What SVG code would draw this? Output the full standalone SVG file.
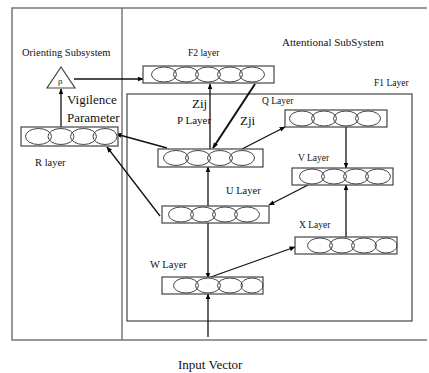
<svg xmlns="http://www.w3.org/2000/svg" width="429" height="373" viewBox="0 0 429 373">
<defs>
<marker id="ah" viewBox="0 0 10 10" refX="9" refY="5" markerWidth="6" markerHeight="6" orient="auto" markerUnits="userSpaceOnUse"><path d="M0,1 L10,5 L0,9 z" fill="#000"/></marker>
<style>
.frame{fill:none;stroke:#777;stroke-width:1.5}
.box{fill:#fff;stroke:#444;stroke-width:1.2}
.cell{fill:none;stroke:#444;stroke-width:1}
.ar{fill:none;stroke:#111;stroke-width:1.3;marker-end:url(#ah)}
.ar2{fill:none;stroke:#111;stroke-width:2;marker-end:url(#ah)}
text{font-family:"Liberation Serif","Times New Roman",serif;fill:#111}
.s{font-size:9.5px}
.m{font-size:10.5px}
.l{font-size:13px}
</style>
</defs>
<rect width="429" height="373" fill="#fff"/>
<g id="frames">
<path class="frame" d="M427,8 H12 V340 H427"/>
<line class="frame" x1="122" y1="8" x2="122" y2="340"/>
<rect x="127" y="94" width="285" height="227" fill="none" stroke="#444" stroke-width="1.2"/>
</g>
<g id="labels">
<text class="m" x="22" y="56">Orienting Subsystem</text>
<text class="m" x="282" y="46" style="font-size:11px">Attentional SubSystem</text>
<text class="s" x="374" y="86">F1 Layer</text>
<text class="l" x="67" y="104">Vigilence</text>
<text class="l" x="67" y="122">Parameter</text>
<text class="l" x="192" y="108">Zij</text>
<text class="l" x="240" y="125">Zji</text>
<text class="l" x="178" y="369">Input Vector</text>
</g>
<g id="connectors">
<line class="ar" x1="74" y1="79" x2="143" y2="79"/>
<line class="ar" x1="61" y1="127" x2="61" y2="89"/>
<line class="ar" x1="210" y1="149" x2="210" y2="84"/>
<line class="ar2" x1="255" y1="84" x2="213" y2="148"/>
<line class="ar" x1="167" y1="148" x2="116" y2="134"/>
<line class="ar" x1="160" y1="216" x2="107" y2="147"/>
<line class="ar" x1="242" y1="149" x2="285" y2="127"/>
<line class="ar" x1="346" y1="127" x2="346" y2="168"/>
<line class="ar" x1="346" y1="237" x2="346" y2="185"/>
<line class="ar" x1="308" y1="185" x2="269" y2="205"/>
<line class="ar" x1="208" y1="206" x2="208" y2="167"/>
<line class="ar" x1="208" y1="223" x2="208" y2="278"/>
<line class="ar" x1="208" y1="278" x2="295" y2="247"/>
<line class="ar" x1="208" y1="337" x2="208" y2="294"/>
</g>
<g id="rho">
<polygon points="61,67 47,88 75,88" fill="#fff" stroke="#444" stroke-width="1.2"/>
<text x="58" y="84" style="font-size:9px">ρ</text>
</g>
<g id="F2">
<text class="s" x="188" y="56">F2 layer</text>
<rect class="box" x="143" y="66" width="131" height="17"/>
<ellipse class="cell" cx="164" cy="74.5" rx="12.5" ry="7.5"/>
<ellipse class="cell" cx="186" cy="74.5" rx="12.5" ry="7.5"/>
<ellipse class="cell" cx="208" cy="74.5" rx="12.5" ry="7.5"/>
<ellipse class="cell" cx="230" cy="74.5" rx="12.5" ry="7.5"/>
<ellipse class="cell" cx="252" cy="74.5" rx="12.5" ry="7.5"/>
</g>
<g id="R">
<text class="m" x="35" y="166">R layer</text>
<rect class="box" x="21" y="127" width="97" height="19"/>
<ellipse class="cell" cx="38.5" cy="136.5" rx="13" ry="8"/>
<ellipse class="cell" cx="61" cy="136.5" rx="13" ry="8"/>
<ellipse class="cell" cx="83.5" cy="136.5" rx="13" ry="8"/>
<ellipse class="cell" cx="105" cy="136.5" rx="12" ry="8"/>
</g>
<g id="P">
<text class="m" x="177" y="124" style="font-size:11px">P Layer</text>
<rect class="box" x="158" y="149" width="105" height="18"/>
<ellipse class="cell" cx="176" cy="158" rx="12.5" ry="7.5"/>
<ellipse class="cell" cx="198" cy="158" rx="12.5" ry="7.5"/>
<ellipse class="cell" cx="220" cy="158" rx="12.5" ry="7.5"/>
<ellipse class="cell" cx="242" cy="158" rx="12.5" ry="7.5"/>
</g>
<g id="Q">
<text class="s" x="262" y="104">Q Layer</text>
<rect class="box" x="285" y="110" width="102" height="17"/>
<ellipse class="cell" cx="302" cy="118.5" rx="12.5" ry="7.5"/>
<ellipse class="cell" cx="324" cy="118.5" rx="12.5" ry="7.5"/>
<ellipse class="cell" cx="346" cy="118.5" rx="12.5" ry="7.5"/>
<ellipse class="cell" cx="368" cy="118.5" rx="12.5" ry="7.5"/>
</g>
<g id="V">
<text class="s" x="298" y="161">V Layer</text>
<rect class="box" x="292" y="168" width="101" height="17"/>
<ellipse class="cell" cx="312" cy="176.5" rx="12.5" ry="7.5"/>
<ellipse class="cell" cx="334" cy="176.5" rx="12.5" ry="7.5"/>
<ellipse class="cell" cx="356" cy="176.5" rx="12.5" ry="7.5"/>
<ellipse class="cell" cx="378" cy="176.5" rx="12.5" ry="7.5"/>
</g>
<g id="U">
<text class="m" x="226" y="194">U Layer</text>
<rect class="box" x="162" y="206" width="107" height="17"/>
<ellipse class="cell" cx="181" cy="214.5" rx="12.5" ry="7.5"/>
<ellipse class="cell" cx="203" cy="214.5" rx="12.5" ry="7.5"/>
<ellipse class="cell" cx="225" cy="214.5" rx="12.5" ry="7.5"/>
<ellipse class="cell" cx="247" cy="214.5" rx="12.5" ry="7.5"/>
</g>
<g id="X">
<text class="s" x="299" y="228">X Layer</text>
<rect class="box" x="295" y="237" width="102" height="17"/>
<ellipse class="cell" cx="320" cy="245.5" rx="12.5" ry="7.5"/>
<ellipse class="cell" cx="342" cy="245.5" rx="12.5" ry="7.5"/>
<ellipse class="cell" cx="364" cy="245.5" rx="12.5" ry="7.5"/>
<ellipse class="cell" cx="386" cy="245.5" rx="11" ry="7.5"/>
</g>
<g id="W">
<text class="m" x="150" y="268">W Layer</text>
<rect class="box" x="162" y="277" width="101" height="17"/>
<ellipse class="cell" cx="186" cy="285.5" rx="12.5" ry="7.5"/>
<ellipse class="cell" cx="208" cy="285.5" rx="12.5" ry="7.5"/>
<ellipse class="cell" cx="230" cy="285.5" rx="12.5" ry="7.5"/>
<ellipse class="cell" cx="252" cy="285.5" rx="11" ry="7.5"/>
</g>
</svg>
